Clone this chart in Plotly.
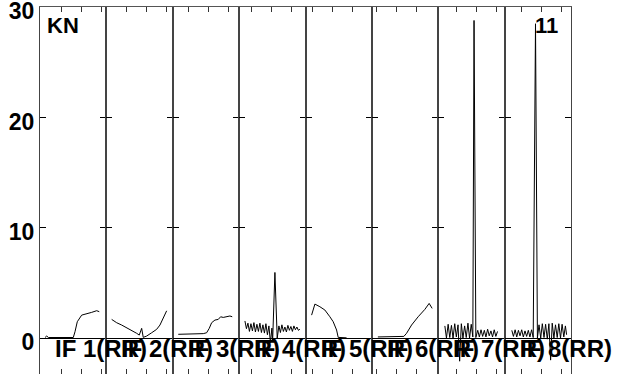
import plotly.graph_objects as go
from plotly.subplots import make_subplots

# panel names, one per IF channel
labels = ["IF 1(RR)", "IF 2(RR)", "IF 3(RR)", "IF 4(RR)",
          "IF 5(RR)", "IF 6(RR)", "IF 7(RR)", "IF 8(RR)"]

# x positions are channel offsets inside each panel (0 .. 66.4)
if1_x = [5, 6.7, 8.5, 33.3, 35, 37.3, 41.7, 46.7, 51.7, 56.7, 59.3]
if1_y = [0.05, 0.18, 0.05, 0.05, 0.57, 1.48, 2.08, 2.24, 2.33, 2.48, 2.39]

if2_x = [5.3, 10.3, 15.3, 20.3, 25.3, 30.3, 32.9, 35.3, 36.9, 40.3, 45.3, 50.3, 53.6, 56.9, 60.3]
if2_y = [1.69, 1.39, 1.18, 0.93, 0.73, 0.43, 0.27, 0.88, 0.06, 0.18, 0.48, 0.79, 1.18, 1.79, 2.47]

if3_x = [5.5, 17.2, 30.5, 33.9, 36.5, 38.9, 42.2, 45.5, 47.9, 50.5, 53.9, 57.2, 59.5]
if3_y = [0.34, 0.36, 0.4, 0.48, 0.88, 1.39, 1.63, 1.69, 1.93, 1.87, 1.93, 2.0, 1.93]

if4_x = [5.8, 7.3, 8.8, 10.3, 11.8, 13.3, 14.8, 16.3, 17.8, 19.3,
         20.8, 22.3, 23.8, 25.3, 26.8, 28.3, 29.8, 31.3, 32.8,
         33.5, 35.8, 38.1,
         39.8, 41.3, 42.8, 44.3, 45.8, 47.3, 48.8, 50.3, 51.8, 53.3,
         54.8, 56.3, 57.8, 59.3, 60.8]
if4_y = [1.55, 0.85, 1.35, 0.60, 1.30, 0.65, 1.40, 0.55, 1.25, 0.60,
         1.35, 0.50, 1.20, 0.45, 1.30, 0.30, 1.10, -0.40, 0.90,
         -0.30, 5.95, 0.0,
         1.1, 0.5, 1.2, 0.6, 1.0, 0.55, 1.15, 0.7, 1.05, 0.6,
         1.1, 0.75, 1.0, 0.7, 0.8]

if5_x = [6.1, 9.4, 14.4, 19.4, 24.4, 27.7, 31.1, 32.7, 41.1]
if5_y = [2.08, 3.08, 2.84, 2.54, 1.93, 1.48, 0.73, 0.06, 0.02]

if6_x = [6, 20, 32, 34.7, 39.7, 46.3, 53, 57.3, 60.3]
if6_y = [0.1, 0.1, 0.15, 0.43, 1.18, 1.93, 2.6, 3.14, 2.69]

if7_x = [6.6, 8.2, 9.9, 11.5, 13.2, 14.8, 16.5, 18.1, 19.8, 21.4,
         23.1, 24.7, 26.4, 28.0, 29.7, 31.3, 33.0, 34.6, 35.8, 37.6,
         39.5, 41.1, 42.8, 44.4, 46.1, 47.7, 49.4, 51.0, 52.7, 54.3,
         56.0, 57.6, 59.3]
if7_y = [1.1, 0.0, 1.25, 0.05, 1.15, 0.0, 1.3, 0.1, 1.2, -2.1,
         1.3, 0.0, 1.1, 0.05, 1.35, 0.0, 1.25, 0.1, 28.8, 0.05,
         0.7, 0.1, 0.75, 0.15, 0.7, 0.1, 0.8, 0.2, 0.65, 0.1,
         0.75, 0.15, 0.6]

if8_x = [7.2, 8.8, 10.5, 12.1, 13.8, 15.4, 17.1, 18.7, 20.4, 22.0,
         23.7, 25.3, 27.0, 28.6, 30.9, 32.8, 34.4, 36.1, 37.7, 39.4,
         41.0, 42.7, 44.3, 46.0, 47.6, 49.3, 50.9, 52.6, 54.2, 55.9,
         57.5, 59.2, 60.8, 62.0]
if8_y = [0.7, 0.15, 0.75, 0.1, 0.7, 0.2, 0.75, 0.1, 0.65, 0.15,
         0.7, 0.1, 0.75, 0.05, 28.5, 0.0, 1.2, 0.0, 1.3, 0.05,
         1.25, -0.1, 1.3, -2.0, 1.35, 0.0, 1.2, 0.05, 1.3, 0.0,
         1.25, 0.1, 1.1, 0.3]

# tick positions along the top/bottom of each panel
panel_ticks = [[21.7, 41.7, 61.7], [20.3, 40.3, 60.3], [15.5, 35.5, 55.5],
               [12.5, 32.5, 52.5], [6.7, 26.7, 46.7], [4.7, 24.7, 44.7],
               [18.3, 38.3, 58.3], [16.9, 36.9, 56.9]]

y_ticks = [0, 10, 20, 30]

xs = [if1_x, if2_x, if3_x, if4_x, if5_x, if6_x, if7_x, if8_x]
ys = [if1_y, if2_y, if3_y, if4_y, if5_y, if6_y, if7_y, if8_y]

bold = dict(family="Liberation Sans, Arial", color="black", weight="bold")

fig = make_subplots(rows=1, cols=8, shared_yaxes=True, horizontal_spacing=0)

for i in range(8):
    fig.add_trace(go.Scatter(x=xs[i], y=ys[i], mode="lines",
                             line=dict(color="black", width=1),
                             showlegend=False), row=1, col=i + 1)
    fig.update_xaxes(range=[0, 66.4], tickvals=panel_ticks[i],
                     showticklabels=False, ticks="inside", ticklen=5,
                     tickcolor="#333", showline=True, mirror="ticks",
                     linecolor="#555", linewidth=1, showgrid=False,
                     zeroline=False, automargin=False, row=1, col=i + 1)
    fig.add_annotation(text=labels[i], x=13, y=-0.95,
                       xref="x" if i == 0 else "x%d" % (i + 1), yref="y",
                       xanchor="left", yanchor="middle", showarrow=False,
                       font=dict(size=24, **bold))

fig.update_yaxes(range=[-3.26, 30.02], tickvals=y_ticks, ticks="inside",
                 ticklen=6, tickcolor="black", showline=True, mirror="ticks",
                 linecolor="#444", linewidth=1, showgrid=False,
                 zeroline=True, zerolinecolor="black", zerolinewidth=1,
                 automargin=False, ticklabeloverflow="allow",
                 ticklabelshift=4,
                 tickfont=dict(size=23, **bold))

fig.add_annotation(text="KN", x=5, y=28.3, xref="x", yref="y",
                   xanchor="left", yanchor="middle", showarrow=False,
                   font=dict(size=22, **bold))
fig.add_annotation(text="11", x=28.2, y=28.3, xref="x8", yref="y",
                   xanchor="left", yanchor="middle", showarrow=False,
                   font=dict(size=22, **bold))

fig.update_layout(width=618, height=374,
                  margin=dict(l=40, r=47, t=7, b=0),
                  plot_bgcolor="white", paper_bgcolor="white")

fig.write_html("out.html", config={"displayModeBar": False},
               post_script="document.body.style.margin = '0';")
